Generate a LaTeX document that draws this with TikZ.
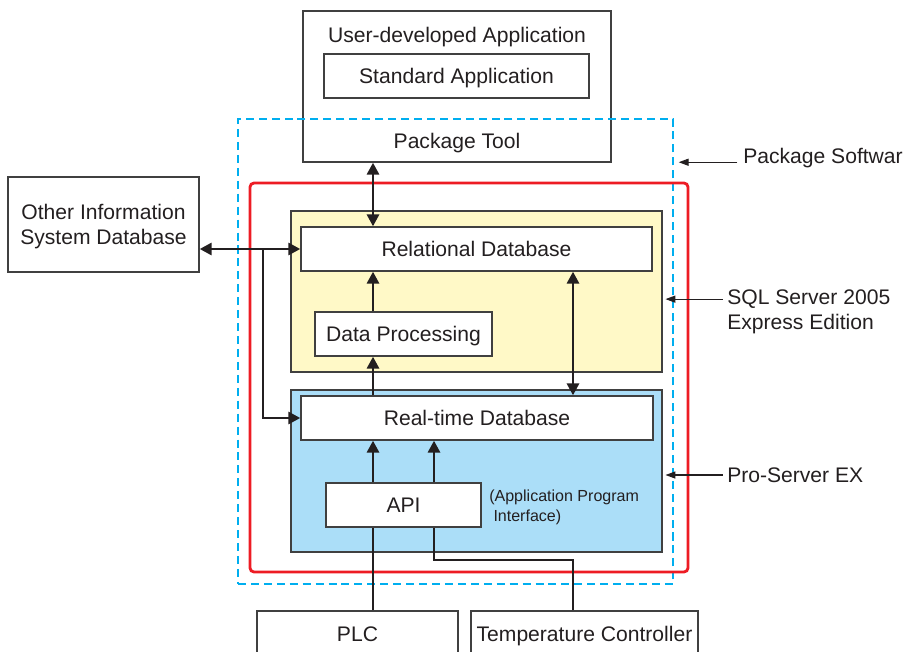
\documentclass[tikz,border=0pt]{standalone}
\usepackage{fontspec}
\setmainfont{Liberation Sans}
\usetikzlibrary{arrows.meta}
\definecolor{ink}{RGB}{35,31,32}
\definecolor{edge}{RGB}{64,64,64}
\definecolor{sqlyellow}{RGB}{255,249,199}
\definecolor{problue}{RGB}{171,222,248}
\definecolor{frame}{RGB}{237,28,36}
\definecolor{pkgcyan}{RGB}{0,174,239}

\begin{document}
\begin{tikzpicture}[x=0.025cm,y=-0.025cm,font=\fontsize{15}{17.7}\selectfont,text=ink]
        \tikzstyle{box}=[rectangle,draw=edge,line width=0.9pt,inner sep=0pt,align=center,text depth=0pt]
        \tikzstyle{label}=[inner sep=0pt,align=left]
        \tikzstyle{link}=[draw=ink,line width=2.1pt,>={Triangle[length=8.5pt,width=8.5pt]}]
        \tikzstyle{note}=[draw=ink,line width=0.75pt,->,>={Triangle[length=7pt,width=5pt]}]

      \clip (0,0) rectangle (909,652);

      \begin{scope}
         \node[box,minimum width=7.7cm,minimum height=3.775cm] (userbox) at (457,86.5) {};
         \node (usertxt) at (457,37) {User-developed Application};
         \node[box,minimum width=6.625cm,minimum height=1.1cm] (stdapp) at (456.5,76) {Standard Application};
         \node (pkgtool) at (457,143) {Package Tool};

         \node[draw=pkgcyan,line width=2pt,dash pattern=on 5.7pt off 3.5pt,
               minimum width=10.875cm,minimum height=11.625cm] (pkgsw) at (455.5,351.5) {};
         \node[draw=frame,line width=2pt,rounded corners=3pt,
               minimum width=10.95cm,minimum height=9.725cm] (redbox) at (469,377.5) {};

         \node[box,fill=sqlyellow,minimum width=9.275cm,minimum height=4.025cm] (sqlbox) at (476.5,291.5) {};
         \node[box,fill=problue,minimum width=9.275cm,minimum height=4.05cm] (probox) at (476.5,471) {};

         \node[box,fill=white,minimum width=8.775cm,minimum height=1.1cm] (reldb) at (476.5,249) {Relational Database};
         \node[box,fill=white,minimum width=4.425cm,minimum height=1.1cm] (dataproc) at (403.5,334) {Data Processing};
         \node[box,fill=white,minimum width=8.8cm,minimum height=1.1cm] (rtdb) at (477,418) {Real-time Database};
         \node[box,fill=white,minimum width=3.875cm,minimum height=1.1cm] (api) at (403.5,505) {API};
         \node[label,anchor=west,font=\fontsize{11.4}{14.2}\selectfont] (apinote) at (489,507)
              {(Application Program\\\hspace{3pt}Interface)};

         \node[box,minimum width=4.775cm,minimum height=2.375cm] (otherdb) at (103.5,224.5)
              {Other Information\\System Database};
         \node[box,minimum width=5.025cm,minimum height=1.15cm] (plc) at (357.5,634) {PLC};
         \node[box,minimum width=5.675cm,minimum height=1.15cm] (temp) at (584.5,634) {Temperature Controller};

         \coordinate (ax) at (373,0);
         \coordinate (bx) at (573,0);
         \coordinate (cx) at (434,0);
         \coordinate (split) at (263,249);
         \coordinate (bend) at (0,560);

         \draw[link,<->] (userbox.south -| ax) to (reldb.north -| ax);
         \draw[link,->]  (dataproc.north -| ax) to (reldb.south -| ax);
         \draw[link,->]  (rtdb.north -| ax) to (dataproc.south -| ax);
         \draw[link,<->] (reldb.south -| bx) to (rtdb.north -| bx);
         \draw[link,<->] (otherdb.east |- reldb.west) to (reldb.west);
         \draw[link,->]  (split) |- (rtdb.west);
         \draw[link,->]  (api.north -| ax) to (rtdb.south -| ax);
         \draw[link,->]  (api.north -| cx) to (rtdb.south -| cx);
         \draw[link]     (plc.north -| ax) to (api.south -| ax);
         \draw[link]     (temp.north -| bx) |- (bend -| cx) -- (api.south -| cx);

         \node[label,anchor=west] (pswtxt) at (743,158) {Package Softwar};
         \node[label,anchor=west] (sqltxt) at (727,311.5) {SQL Server 2005\\Express Edition};
         \node[label,anchor=west] (protxt) at (727,475) {Pro-Server EX};

         \draw[note,shorten <=4pt,shorten >=3pt] ([yshift=-3pt]pswtxt.west) to ([yshift=-3pt]pswtxt.west -| pkgsw.east);
         \draw[note,shorten <=3pt,shorten >=2pt] ([yshift=8.8pt]sqltxt.west) to ([yshift=8.8pt]sqltxt.west -| sqlbox.east);
         \draw[note,shorten <=3pt,shorten >=2pt] (protxt.west) to (protxt.west -| probox.east);
      \end{scope}
    \end{tikzpicture}
\end{document}
